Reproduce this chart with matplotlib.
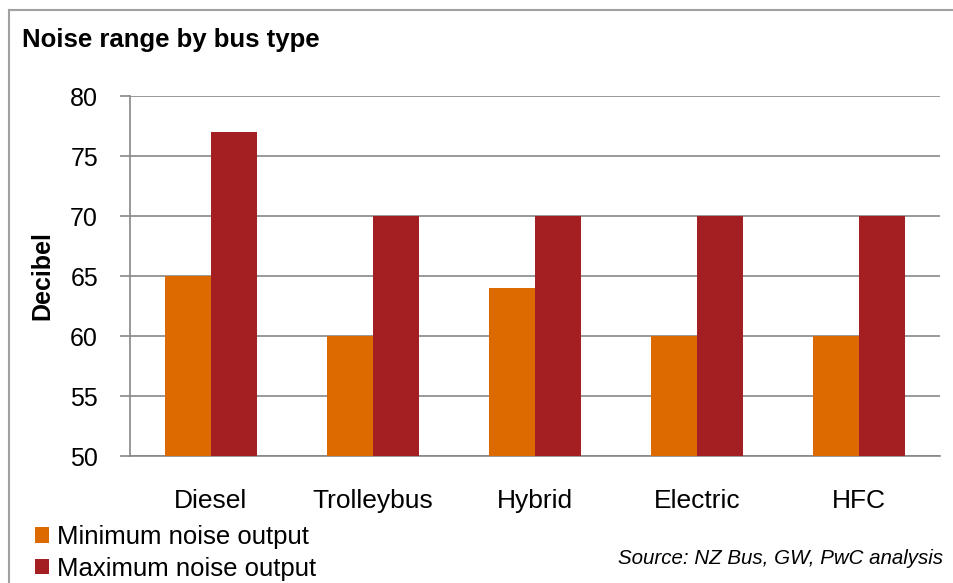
import numpy as np
import matplotlib.pyplot as plt
from matplotlib.patches import Rectangle

plt.rcParams['font.family'] = ['Liberation Sans', 'DejaVu Sans']

bus_types = ['Diesel', 'Trolleybus', 'Hybrid', 'Electric', 'HFC']
min_noise = [65, 60, 64, 60, 60]
max_noise = [77, 70, 70, 70, 70]
y_ticks = [50, 55, 60, 65, 70, 75, 80]

col_min = '#DD6A00'
col_max = '#A31F22'
grid_col = '#878787'

fig = plt.figure(figsize=(9.54, 5.83), dpi=100)
ax = fig.add_axes([130 / 954, 1 - 456 / 583, 810 / 954, 360 / 583])

x = np.arange(len(bus_types))
w = 0.284
ax.bar(x - w / 2, min_noise, w, color=col_min, zorder=3, label='Minimum noise output')
ax.bar(x + w / 2, max_noise, w, color=col_max, zorder=3, label='Maximum noise output')

ax.set_xlim(-0.5, len(bus_types) - 0.5)
ax.set_ylim(50, 80)
ax.set_yticks(y_ticks)
ax.set_yticklabels([str(v) for v in y_ticks], fontsize=18)
ax.set_xticks(x)
ax.set_xticklabels(bus_types, fontsize=19)
ax.tick_params(axis='x', length=0, pad=24)
ax.tick_params(axis='y', length=7, width=1.2, color=grid_col, pad=16)
ax.yaxis.grid(True, color=grid_col, linewidth=1.2, zorder=0)
for s in ['top', 'right']:
    ax.spines[s].set_visible(False)
ax.spines['left'].set_color(grid_col)
ax.spines['left'].set_linewidth(1.2)
ax.spines['bottom'].set_color(grid_col)
ax.spines['bottom'].set_linewidth(1.2)

ax.set_ylabel('Decibel', fontsize=18, fontweight='bold')
ax.yaxis.set_label_coords(-76 / 810, 0.5)

fig.text(22 / 954, 1 - 40 / 583, 'Noise range by bus type', fontsize=18.5,
         fontweight='bold', va='center', ha='left')

# outer frame
fig.patches.append(Rectangle((9 / 954, -0.1), 2, 1 - 10 / 583 + 0.1,
                             transform=fig.transFigure, fill=False,
                             edgecolor='#A0A0A0', linewidth=1.5))

handles, labels = ax.get_legend_handles_labels()
fig.legend(handles, labels, loc='upper left', bbox_to_anchor=(35 / 954, 1 - 525 / 583),
           frameon=False, fontsize=18.5, handlelength=0.55, handleheight=0.55,
           handletextpad=0.3, labelspacing=0.3, borderpad=0, borderaxespad=0)

fig.text(618 / 954, 1 - 558 / 583, 'Source: NZ Bus, GW, PwC analysis',
         fontsize=14.8, style='italic', ha='left', va='center')

fig.savefig('out.png', dpi=100)
